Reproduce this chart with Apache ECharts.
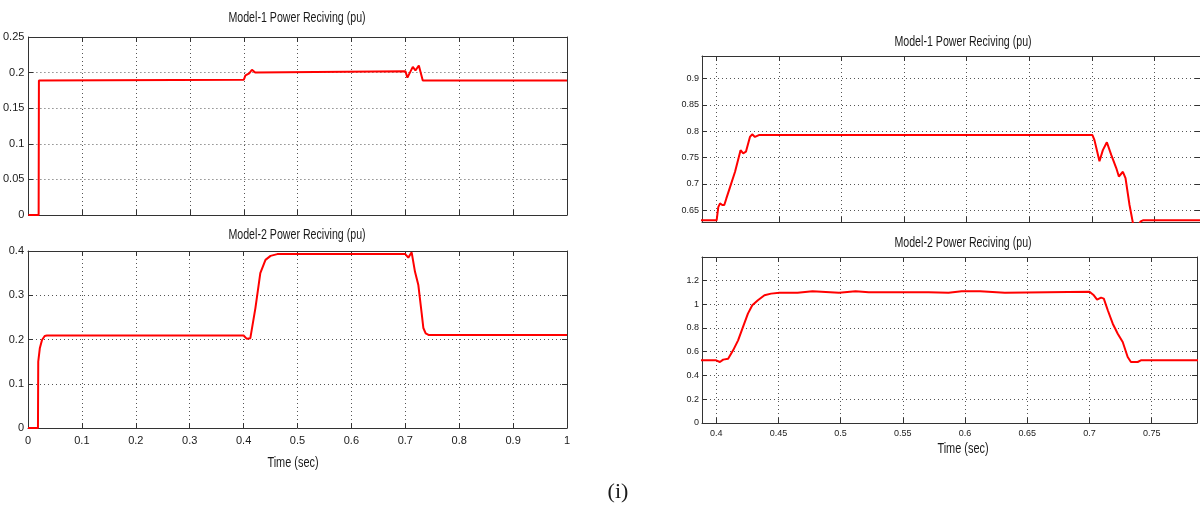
<!DOCTYPE html>
<html>
<head>
<meta charset="utf-8">
<title>Model Power Reciving</title>
<script src="https://cdn.jsdelivr.net/npm/echarts@6.0.0/dist/echarts.min.js"></script>
<style>
  html, body { margin: 0; padding: 0; background: #fff; }
  #chart { width: 1200px; height: 507px; }
</style>
</head>
<body>
<div id="chart"></div>
<script>
// full run, 0 - 1 s
const m1Time = [0, 0.019, 0.0195, 0.4, 0.403, 0.41, 0.415, 0.418, 0.421, 0.424, 0.7, 0.7037, 0.7137, 0.7186, 0.7249, 0.7322, 1]
const m1Power = [0, 0, 0.189, 0.19, 0.196, 0.199, 0.204, 0.206, 0.2, 0.202, 0.202, 0.193, 0.208, 0.203, 0.21, 0.189, 0.189]

const m2Time = [0, 0.0185, 0.019, 0.0219, 0.026, 0.031, 0.035, 0.4, 0.406, 0.4125, 0.4219, 0.431, 0.4406, 0.45, 0.4625,
  0.7, 0.7056, 0.7118, 0.718, 0.7242, 0.7304, 0.7335, 0.7378, 0.744, 1]
const m2Power = [0, 0, 0.15, 0.18, 0.199, 0.208, 0.209, 0.209, 0.2015, 0.203, 0.271, 0.35, 0.38, 0.389, 0.393,
  0.393, 0.385, 0.397, 0.353, 0.323, 0.259, 0.226, 0.214, 0.21, 0.21]

// zoomed view, 0.39 - 0.79 s
const z1Time = [0.385, 0.4003, 0.4016, 0.403, 0.4048, 0.4064, 0.408, 0.411, 0.415, 0.4194, 0.4215, 0.4237, 0.4269, 0.4287, 0.4309, 0.434,
  0.7005, 0.7021, 0.7043, 0.7061, 0.7088, 0.712, 0.7155, 0.7195, 0.7216, 0.7248, 0.7269, 0.7301, 0.7333, 0.7368, 0.739, 0.7408, 0.79]
const z1Power = [0.631, 0.631, 0.656, 0.663, 0.66, 0.66, 0.672, 0.694, 0.723, 0.764, 0.758, 0.761, 0.789, 0.794, 0.789, 0.7925,
  0.7925, 0.783, 0.761, 0.743, 0.764, 0.779, 0.755, 0.73, 0.714, 0.723, 0.711, 0.66, 0.62, 0.62, 0.629, 0.631, 0.631]

const z2Time = [0.385, 0.4, 0.403, 0.4056, 0.4096, 0.4136, 0.4176, 0.4215, 0.4255, 0.429, 0.4335, 0.4388, 0.4441, 0.4508,
  0.4654, 0.4668, 0.4774, 0.4787, 0.4987, 0.4992, 0.512, 0.5133, 0.5226, 0.5707, 0.5867, 0.5973, 0.612, 0.6133, 0.632, 0.6335,
  0.7, 0.7035, 0.7061, 0.7093, 0.7115, 0.7147, 0.7187, 0.7227, 0.7267, 0.7307, 0.7333, 0.7387, 0.7413, 0.79]
const z2Power = [0.527, 0.527, 0.513, 0.533, 0.541, 0.611, 0.695, 0.807, 0.92, 0.99, 1.032, 1.074, 1.088, 1.096,
  1.096, 1.107, 1.107, 1.096, 1.096, 1.107, 1.107, 1.096, 1.1, 1.1, 1.096, 1.107, 1.107, 1.096, 1.096, 1.104,
  1.104, 1.074, 1.037, 1.054, 1.046, 0.948, 0.835, 0.751, 0.681, 0.555, 0.513, 0.513, 0.527, 0.527]

const titles = ['Model-1 Power Reciving (pu)', 'Model-2 Power Reciving (pu)']
const xName = 'Time (sec)'
const caption = '(i)'

const sans = '"Liberation Sans", Arial, sans-serif'
const ink = '#1a1a1a'

function pairs(xs, ys) {
  return xs.map((x, i) => [x, ys[i]])
}

// blank out the extra labels ECharts puts at a non-round min / max
function onStep(step) {
  return function(v) {
    const k = v / step
    if (Math.abs(k - Math.round(k)) > 1e-6) return ''
    return String(parseFloat(v.toFixed(3)))
  }
}

// main axis + mirrored axis (MATLAB box with ticks on all sides)
function axisPair(dim, gridIndex, scale, label) {
  const main = Object.assign({
    type: 'value',
    gridIndex: gridIndex,
    position: dim === 'x' ? 'bottom' : 'left',
    axisLine: { show: true, onZero: false, lineStyle: { color: '#333', width: 1 } },
    axisTick: { show: true, inside: true, length: 5, lineStyle: { color: '#333' } },
    axisLabel: label,
    splitLine: { show: true, lineStyle: { color: '#555', width: 1, type: [1, 3] } }
  }, scale)
  const mirror = Object.assign({
    type: 'value',
    gridIndex: gridIndex,
    position: dim === 'x' ? 'top' : 'right',
    axisLine: { show: true, onZero: false, lineStyle: { color: '#333', width: 1 } },
    axisTick: { show: true, inside: true, length: 5, lineStyle: { color: '#333' } },
    axisLabel: { show: false },
    splitLine: { show: false }
  }, scale)
  return [main, mirror]
}

// narrow look of the MATLAB export: squeeze the text horizontally
function text(str, x, y, size, squeeze, family) {
  return {
    type: 'text',
    x: x,
    y: y,
    scaleX: squeeze,
    silent: true,
    style: {
      text: str,
      fill: ink,
      font: size + 'px ' + (family || sans),
      textAlign: 'center',
      textVerticalAlign: 'middle'
    }
  }
}

function redLine(g, xs, ys) {
  return {
    type: 'line',
    xAxisIndex: 2 * g,
    yAxisIndex: 2 * g,
    data: pairs(xs, ys),
    symbol: 'none',
    smooth: false,
    clip: true,
    lineStyle: { color: '#ff0000', width: 2 }
  }
}

const leftLabel = { show: true, color: ink, fontSize: 11, fontFamily: sans, margin: 4 }
const leftXLabel = { show: true, color: ink, fontSize: 11, fontFamily: sans, margin: 7 }
const rightLabel = { show: true, color: ink, fontSize: 9, fontFamily: sans, margin: 3 }
const rightXLabel = { show: true, color: ink, fontSize: 9, fontFamily: sans, margin: 6 }

const xFull = { min: 0, max: 1, interval: 0.1 }
const xZoom = { min: 0.3886, max: 0.7864, splitNumber: 8 }

const xAxes = [].concat(
  axisPair('x', 0, xFull, { show: false }),
  axisPair('x', 1, xFull, leftXLabel),
  axisPair('x', 2, xZoom, { show: false }),
  axisPair('x', 3, xZoom, Object.assign({ formatter: onStep(0.05) }, rightXLabel))
)
const yAxes = [].concat(
  axisPair('y', 0, { min: 0, max: 0.25, interval: 0.05 }, leftLabel),
  axisPair('y', 1, { min: 0, max: 0.4, interval: 0.1 }, leftLabel),
  axisPair('y', 2, { min: 0.6278, max: 0.9424, splitNumber: 6 }, Object.assign({ formatter: onStep(0.05) }, rightLabel)),
  axisPair('y', 3, { min: 0, max: 1.396, interval: 0.2 }, Object.assign({ formatter: onStep(0.2) }, rightLabel))
)

const chart = echarts.init(document.getElementById('chart'), null, { renderer: 'canvas' })
chart.setOption({
  backgroundColor: '#fff',
  animation: false,
  grid: [
    { left: 28, top: 37, width: 539, height: 178 },
    { left: 28, top: 251, width: 539, height: 177 },
    { left: 702, top: 56, width: 498, height: 166 },
    { left: 702, top: 257, width: 498, height: 166 }
  ],
  xAxis: xAxes,
  yAxis: yAxes,
  series: [
    redLine(0, m1Time, m1Power),
    redLine(1, m2Time, m2Power),
    redLine(2, z1Time, z1Power),
    redLine(3, z2Time, z2Power)
  ],
  graphic: [
    text(titles[0], 297, 18, 14, 0.76),
    text(titles[1], 297, 235, 14, 0.76),
    text(titles[0], 963, 42, 14, 0.76),
    text(titles[1], 963, 243, 14, 0.76),
    text(xName, 293, 463, 14, 0.78),
    text(xName, 963, 449, 14, 0.78),
    text(caption, 618, 492, 22, 1, '"Liberation Serif", "Times New Roman", serif')
  ]
})
</script>
</body>
</html>
